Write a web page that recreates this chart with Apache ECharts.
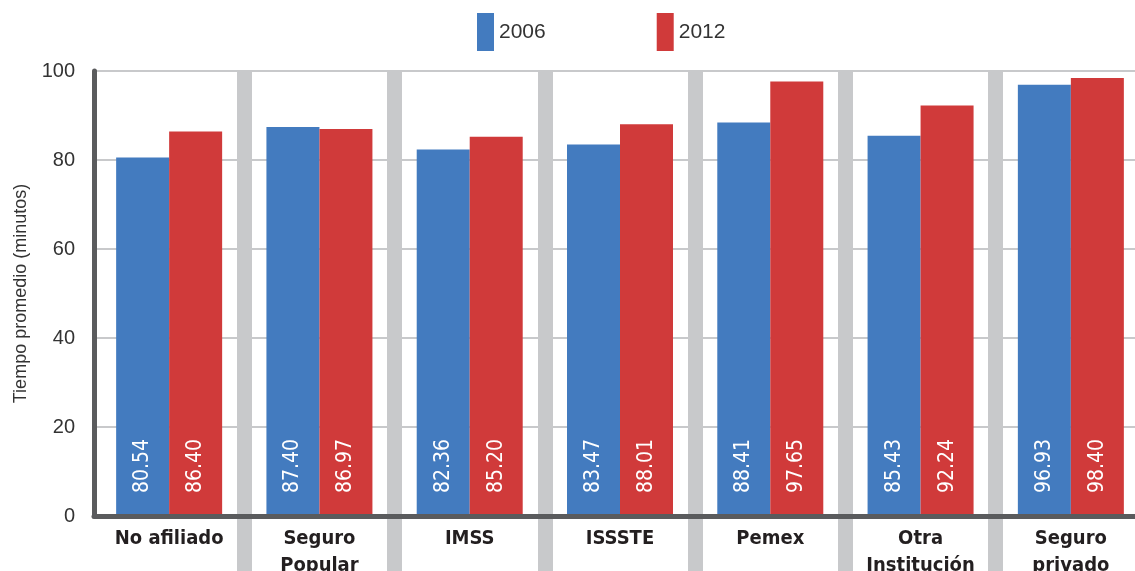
<!DOCTYPE html>
<html>
<head>
<meta charset="utf-8">
<script src="https://cdn.jsdelivr.net/npm/echarts@6/dist/echarts.min.js"></script>
<style>html,body{margin:0;padding:0;background:#fff}#c{width:1135px;height:571px}</style>
</head>
<body>
<div id="c"></div>
<script>
var categories = ['No afiliado', 'Seguro\nPopular', 'IMSS', 'ISSSTE', 'Pemex', 'Otra\nInstitución', 'Seguro\nprivado'];
var series2006 = [80.54, 87.40, 82.36, 83.47, 88.41, 85.43, 96.93];
var series2012 = [86.40, 86.97, 85.20, 88.01, 97.65, 92.24, 98.40];
var seriesNames = ['2006', '2012'];
var yTicks = [0, 20, 40, 60, 80, 100];

var chart = echarts.init(document.getElementById('c'));
var sepColor = '#c8c9cb';
var narrow = 'Liberation Sans Narrow, DejaVu Sans Condensed, sans-serif';
var valueLabel = {
  show: true,
  position: 'insideBottom',
  rotate: 90,
  align: 'left',
  verticalAlign: 'middle',
  distance: 23,
  color: '#ffffff',
  fontFamily: narrow,
  fontSize: 21,
  formatter: function (p) { return p.value.toFixed(2); }
};
chart.setOption({
  animation: false,
  legend: {
    left: 472,
    top: 8,
    itemWidth: 17,
    itemHeight: 38,
    itemGap: 111,
    icon: 'rect',
    textStyle: { fontFamily: 'Liberation Sans, sans-serif', fontSize: 21, color: '#333' },
    data: seriesNames
  },
  grid: { left: 94, top: 71, width: 1052, bottom: 55, containLabel: false, outerBoundsMode: 'none' },
  xAxis: [{
    type: 'category',
    data: categories,
    z: 1,
    axisLine: { show: false },
    axisTick: {
      show: true,
      length: 60,
      interval: function (i) { return i !== 0; },
      lineStyle: { color: sepColor, width: 15 }
    },
    splitLine: {
      show: true,
      interval: function (i) { return i !== 0; },
      lineStyle: { color: sepColor, width: 15 }
    },
    axisLabel: {
      interval: 0,
      margin: 9,
      fontFamily: narrow,
      fontWeight: 'bold',
      fontSize: 20,
      lineHeight: 27,
      color: '#231f20'
    }
  }, {
    type: 'category',
    data: categories,
    position: 'bottom',
    z: 5,
    axisLine: { show: true, lineStyle: { color: '#5a5b5d', width: 5 } },
    axisTick: { show: false },
    axisLabel: { show: false },
    splitLine: { show: false }
  }],
  yAxis: {
    type: 'value',
    min: 0,
    max: 100,
    interval: 20,
    z: 0,
    name: 'Tiempo promedio (minutos)',
    nameLocation: 'middle',
    nameGap: 64,
    nameTextStyle: { fontFamily: 'Liberation Sans, sans-serif', fontSize: 18, color: '#333' },
    axisLine: { show: true, lineStyle: { color: '#5a5b5d', width: 5 } },
    axisTick: { show: false },
    splitLine: { show: true, lineStyle: { color: '#c8c9cb', width: 2 } },
    axisLabel: {
      margin: 19,
      fontFamily: 'Liberation Sans, sans-serif',
      fontSize: 20,
      color: '#333',
      formatter: function (v) { return yTicks.indexOf(v) >= 0 ? String(v) : ''; }
    }
  },
  series: [{
    name: seriesNames[0],
    type: 'bar',
    data: series2006,
    barWidth: 53,
    barGap: '0%',
    z: 3,
    itemStyle: { color: '#437bbf' },
    label: valueLabel
  }, {
    name: seriesNames[1],
    type: 'bar',
    data: series2012,
    barWidth: 53,
    barGap: '0%',
    z: 3,
    itemStyle: { color: '#d03a3a' },
    label: valueLabel
  }]
});
</script>
</body>
</html>
